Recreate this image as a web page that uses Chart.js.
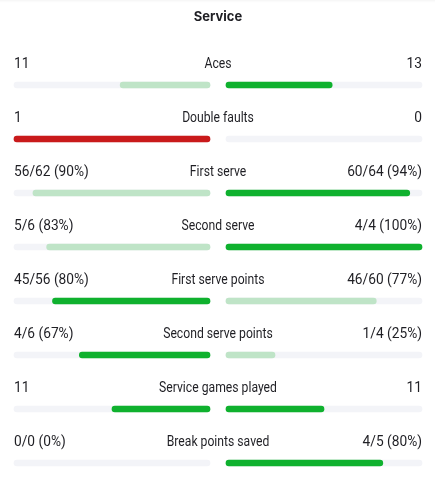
<!DOCTYPE html>
<html lang="en">
<head>
    <meta charset="UTF-8">
    <title>Service</title>
    <style>
        body, html {
            margin: 0;
            padding: 0;
            background: #fff;
            overflow: hidden;
        }
        .wrap {
            position: relative;
            width: 435px;
            height: 479px;
        }
        .wrap::before { /* faint top shadow */
            content: "";
            position: absolute;
            left: 0; right: 0; top: 0;
            height: 3px;
            background: linear-gradient(rgba(0,0,0,0.035), rgba(0,0,0,0));
        }
    </style>
</head>
<body>
<div class="wrap">
    <canvas id="myChart"></canvas>
</div>

<script src="https://cdn.jsdelivr.net/npm/chart.js"></script>
<script>

const categories = ['Aces', 'Double faults', 'First serve', 'Second serve', 'First serve points', 'Second serve points', 'Service games played', 'Break points saved'];
// null total = plain count row
const homeMade  = [11, 1, 56, 5, 45, 4, 11, 0];
const homeTotal = [null, null, 62, 6, 56, 6, null, 0];
const awayMade  = [13, 0, 60, 4, 46, 1, 11, 4];
const awayTotal = [null, null, 64, 4, 60, 4, null, 5];
const lowerIsBetter = ['Double faults'];

const DARK = '#0fb12e';
const LIGHT = '#bfe4c7';
const RED = '#c91a1b';
const TRACK = '#f3f4f8';
const TEXT = '#1f1f24';
const GAP = 16 / 392; // half gap between the two tracks, in track units
// no condensed font installed: squeeze Roboto for the names, digits stay wide
const NARROW_NAME = 0.87;
const NARROW_VALUE = 0.98;

function fraction(i, made, total, otherMade) {
    if (total[i] === null) {
        const sum = made[i] + otherMade[i];
        return sum ? made[i] / sum : 0;
    }
    return total[i] ? made[i] / total[i] : 0;
}

function label(i, made, total) {
    if (total[i] === null) return String(made[i]);
    const pct = total[i] ? Math.round(made[i] / total[i] * 100) : 0;
    return made[i] + '/' + total[i] + ' (' + pct + '%)';
}

const homeFrac = categories.map((c, i) => fraction(i, homeMade, homeTotal, awayMade));
const awayFrac = categories.map((c, i) => fraction(i, awayMade, awayTotal, homeMade));

function barColor(i, mine, other) {
    if (lowerIsBetter.includes(categories[i])) {
        return mine > other ? RED : LIGHT;
    }
    return mine >= other ? DARK : LIGHT;
}

const homeColors = categories.map((c, i) => barColor(i, homeFrac[i], awayFrac[i]));
const awayColors = categories.map((c, i) => barColor(i, awayFrac[i], homeFrac[i]));

function narrowText(ctx, text, x, y, align, k) {
    ctx.save();
    ctx.translate(x, y);
    ctx.scale(k, 1);
    ctx.textAlign = align;
    ctx.fillText(text, 0, 0);
    ctx.restore();
}

const rowText = {
    id: 'rowText',
    afterDatasetsDraw(chart) {
        const ctx = chart.ctx;
        const y = chart.scales.y;
        const area = chart.chartArea;
        const mid = (area.left + area.right) / 2;
        ctx.save();
        ctx.fillStyle = TEXT;
        ctx.font = "14px Roboto, 'Noto Sans', sans-serif";
        ctx.textBaseline = 'alphabetic';
        categories.forEach((c, i) => {
            const py = y.getPixelForValue(i) - 17;
            narrowText(ctx, label(i, homeMade, homeTotal), area.left, py, 'left', NARROW_VALUE);
            narrowText(ctx, c, mid, py, 'center', NARROW_NAME);
            narrowText(ctx, label(i, awayMade, awayTotal), area.right, py, 'right', NARROW_VALUE);
        });
        ctx.restore();
    }
};

const barStyle = {
    barThickness: 6,
    borderRadius: 3,
    borderSkipped: false,
    grouped: false,
    clip: false
};

new Chart(document.getElementById('myChart'), {
    type: 'bar',
    data: {
        labels: categories,
        datasets: [
            Object.assign({ data: categories.map(() => [-(1 + GAP), -GAP]), backgroundColor: TRACK, order: 2 }, barStyle),
            Object.assign({ data: categories.map(() => [GAP, 1 + GAP]), backgroundColor: TRACK, order: 2 }, barStyle),
            Object.assign({ data: homeFrac.map(f => f ? [-(f + GAP), -GAP] : null), backgroundColor: homeColors, order: 1 }, barStyle),
            Object.assign({ data: awayFrac.map(f => f ? [GAP, f + GAP] : null), backgroundColor: awayColors, order: 1 }, barStyle)
        ]
    },
    options: {
        indexAxis: 'y',
        responsive: true,
        maintainAspectRatio: false,
        animation: false,
        layout: { padding: { left: 14, right: 13, top: 0, bottom: 16 } },
        scales: {
            x: { type: 'linear', min: -(1 + GAP), max: 1 + GAP, display: false },
            y: { type: 'category', offset: false, display: false }
        },
        plugins: {
            legend: { display: false },
            tooltip: { enabled: false },
            title: {
                display: true,
                text: 'Service',
                color: TEXT,
                font: { family: "Inter, 'Noto Sans', sans-serif", size: 13, weight: 'bold', lineHeight: 1.2 },
                padding: { top: 9.6, bottom: 59.8 }
            }
        }
    },
    plugins: [rowText]
});

</script>
</body>
</html>
